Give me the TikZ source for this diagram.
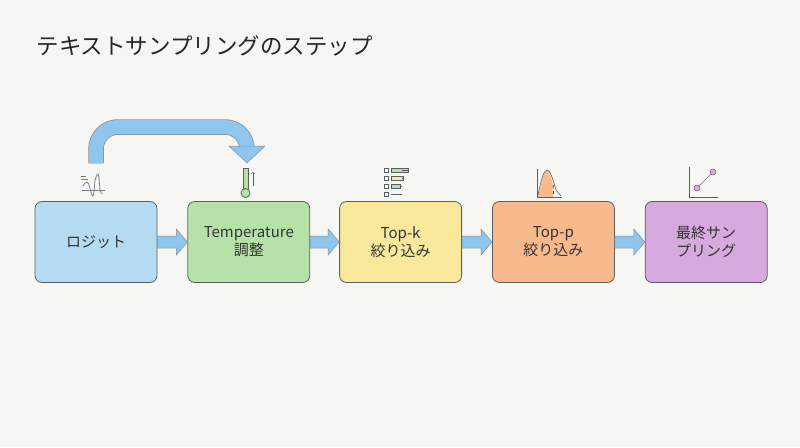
\documentclass[tikz,border=0pt]{standalone}
\usepackage{fontspec}
\setmainfont{Noto Sans CJK JP}
\usetikzlibrary{positioning}
\definecolor{bgcol}{HTML}{F6F7F2}
\definecolor{edgecol}{HTML}{5A5F66}
\definecolor{arrcol}{HTML}{8EC6EE}
\definecolor{cblue}{HTML}{B5DBF3}
\definecolor{cgreen}{HTML}{B6E2A9}
\definecolor{cyellow}{HTML}{F8E89C}
\definecolor{corange}{HTML}{F8BA8C}
\definecolor{cpurple}{HTML}{D7AADF}
\tikzset{
  stepbox/.style={draw=edgecol,line width=0.8pt,rounded corners=7pt,minimum width=122pt,
    minimum height=81pt,align=center,font=\fontsize{15}{18}\selectfont,text=black!80},
  flow/.style={fill=arrcol,draw=edgecol!70,line width=0.5pt},
  icon/.style={line width=0.8pt,draw=edgecol}
}
\begin{document}
\begin{tikzpicture}[x=1pt,y=-1pt]
  \fill[bgcol] (0,0) rectangle (800,447);
  \useasboundingbox (0,0) rectangle (800,447);
  \node[anchor=west,font=\fontsize{22.5}{26}\selectfont,text=black!85] (title) at (33,46) {テキストサンプリングのステップ};

  \node[stepbox,fill=cblue] (logit) at (96,242) {ロジット};
  \node[stepbox,fill=cgreen,right=30pt of logit] (temp) {Temperature\\調整};
  \node[stepbox,fill=cyellow,right=29pt of temp] (topk) {Top-k\\絞り込み};
  \node[stepbox,fill=corange,right=30pt of topk] (topp) {Top-p\\絞り込み};
  \node[stepbox,fill=cpurple,right=30pt of topp] (final) {最終サン\\プリング};

  % block arrows between steps
  \foreach \a/\b in {logit/temp,temp/topk,topk/topp,topp/final}
  {\path (\a.east) -- (\b.west) coordinate[pos=0] (s) coordinate[pos=1] (e);
   \draw[flow] ([yshift=-6]s) -- ([xshift=-11,yshift=-6]e) -- ([xshift=-11,yshift=-13]e)
     -- (e) -- ([xshift=-11,yshift=13]e) -- ([xshift=-11,yshift=6]e) -- ([yshift=6]s) -- cycle;};

  % curved arrow
  \coordinate (cstart) at (96,163);
  \coordinate (ctip) at (247,163);
  \draw[edgecol!70,line width=15.5pt,rounded corners=22pt] (cstart) |- (247,127) -- (247,147);
  \draw[arrcol,line width=14pt,rounded corners=22pt] ([yshift=-0.5]cstart) |- (247,127) -- (247,148);
  \draw[flow] (229,146) -- (265,146) -- (ctip) -- cycle;

  % icons
  \draw[icon,draw=edgecol!80] (82,190) -- (105,190);
  \draw[icon,draw=edgecol!80] (81,176) -- (86,176) (81,179) -- (88,179);
  \draw[icon,draw=edgecol!80] (83,186) sin (87,182) cos (90,188) sin (93,196) cos (95,180) sin (98,174) cos (100,190) sin (102,194);
  \draw[icon,fill=cgreen] (243,168) rectangle (248,190);
  \draw[icon,fill=cgreen] (245.5,193) circle (4.5);
  \draw[icon,line width=0.5pt,->] (253,186) -- (253,172);
  \foreach \y/\c/\w in {170/cgreen/17,178/cyellow/12,186/cgreen/9}
  {\draw[icon,line width=0.5pt] (384,\y-2) rectangle (388,\y+2);
   \draw[icon,line width=0.5pt,fill=\c] (391,\y-2) rectangle (391+\w,\y+2);
   \draw[icon,line width=0.5pt] (391+\w,\y) -- (402,\y);}
  \draw[icon,line width=0.5pt] (384,192) rectangle (388,196) (391,194) -- (402,194);
  \fill[corange] (537,197) -- (540,190) .. controls (545,165) and (548,165) .. (553,185) -- (553,197) -- cycle;
  \draw[icon,line width=0.5pt] (537,169) -- (537,197) -- (562,197);
  \draw[icon,line width=0.6pt] (538,195) .. controls (545,160) and (549,165) .. (556,190) -- (561,196);
  \draw[icon,line width=0.5pt,dashed] (553,185) -- (553,197);
  \draw[icon,line width=0.5pt] (689,167) -- (689,197) -- (718,197);
  \draw[icon,line width=0.6pt,draw=cpurple!60!black] (697,188) -- (713,172);
  \draw[icon,line width=0.5pt,fill=cpurple] (697,188) circle (3) (713,172) circle (3);
\end{tikzpicture}
\end{document}
